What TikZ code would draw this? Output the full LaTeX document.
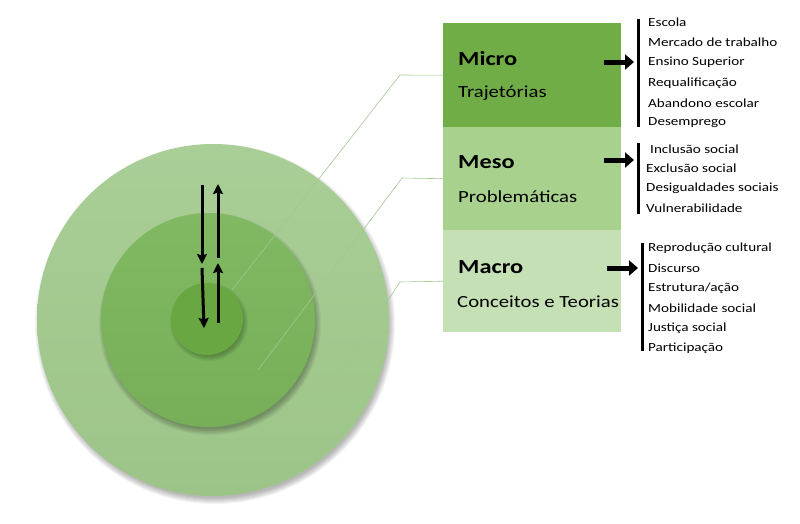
\documentclass[tikz,border=0pt]{standalone}
\usepackage{fontspec}
\setmainfont{Carlito}[FakeStretch=1.22]
\usetikzlibrary{arrows.meta}
\definecolor{microc}{HTML}{70AD47}
\definecolor{mesoc}{HTML}{A9D18E}
\definecolor{macroc}{HTML}{C5E0B4}
\definecolor{ringout}{HTML}{A9CE97}
\definecolor{ringoutd}{HTML}{9DC488}
\definecolor{ringmid}{HTML}{80B962}
\definecolor{ringmidd}{HTML}{76AF57}
\definecolor{ringin}{HTML}{68A741}
\definecolor{leader}{HTML}{A3C78E}
\tikzset{
  ring/.style={circle, draw=none, inner sep=0pt},
  softshadow/.style={black, opacity=0.045},
  levelbox/.style={rectangle, draw=none, anchor=north west, minimum width=178pt, inner sep=0pt},
  title/.style={anchor=west, inner sep=0pt, font=\bfseries\fontsize{20}{24}\selectfont},
  sub/.style={anchor=west, inner sep=0pt, font=\fontsize{17}{21}\selectfont},
  item/.style={anchor=west, inner sep=0pt, font=\fontsize{12.4}{15}\selectfont},
  bar/.style={line width=3pt, black},
  bigarrow/.style={line width=5pt, -{Triangle[length=9pt,width=15pt]}},
  flow/.style={line width=3pt, -{Stealth[length=10pt,width=10pt,inset=1.5pt]}},
  leadline/.style={draw=leader, line width=0.6pt}
}
\begin{document}
\begin{tikzpicture}[x=1pt,y=-1pt]
\useasboundingbox (0,0) rectangle (800,523);
\fill[white] (0,0) rectangle (800,523);

% circles with soft shadows
\foreach \k in {-2,...,4} \fill[softshadow] (215,324) circle [radius={176pt+\k pt}];
\node[ring, minimum size=352pt, top color=ringout, bottom color=ringoutd] (outer) at (213,320) {};
\foreach \k in {-2,...,4} \fill[softshadow] (210,324) circle [radius={107pt+\k pt}];
\node[ring, minimum size=214pt, top color=ringmid, bottom color=ringmidd] (middle) at (208,320) {};
\foreach \k in {-2,...,3} \fill[softshadow] (209,322) circle [radius={36pt+\k pt}];
\node[ring, minimum size=72pt, fill=ringin] (inner) at (207,319) {};

% arrows inside circles
\coordinate (d1s) at (202,185); \coordinate (d1e) at (202,264);
\coordinate (u1s) at (218,258); \coordinate (u1e) at (218,184);
\coordinate (d2s) at (202,268); \coordinate (d2e) at (204,328);
\coordinate (u2s) at (218,323); \coordinate (u2e) at (218,263);
\draw[flow] (d1s) -- (d1e);
\draw[flow] (u1s) -- (u1e);
\draw[flow] (d2s) -- (d2e);
\draw[flow] (u2s) -- (u2e);

% boxes
\node[levelbox, fill=microc, minimum height=104pt] (micro) at (443,23) {};
\node[levelbox, fill=mesoc, minimum height=103pt] (meso) at (443,127) {};
\node[levelbox, fill=macroc, minimum height=102pt] (macro) at (443,230) {};

\node[title] (microt) at (458,59) {Micro};
\node[sub] (micros) at (458,93) {Trajetórias};
\node[title] (mesot) at (458,162) {Meso};
\node[sub] (mesos) at (458,197) {Problemáticas};
\node[title] (macrot) at (458,267) {Macro};
\node[sub] (macros) at (457,302) {Conceitos e Teorias};

% leader lines
\coordinate (lm1) at (400,75); \coordinate (lm2) at (232,290);
\coordinate (le1) at (402,178); \coordinate (le2) at (258,370);
\coordinate (la1) at (400,282); \coordinate (la2) at (310,418);
\draw[leadline] (micro.west) -- (lm1) -- (lm2);
\draw[leadline] (meso.west) -- (le1) -- (le2);
\draw[leadline] (macro.west) -- (la1) -- (la2);

% big arrows
\coordinate (am1) at (604,62); \coordinate (am2) at (634,62);
\coordinate (ae1) at (604,160); \coordinate (ae2) at (634,160);
\coordinate (aa1) at (607,268); \coordinate (aa2) at (638,268);
\draw[bigarrow] (am1) -- (am2);
\draw[bigarrow] (ae1) -- (ae2);
\draw[bigarrow] (aa1) -- (aa2);

% bars
\coordinate (bm1) at (638,19); \coordinate (bm2) at (638,127);
\coordinate (be1) at (638,143); \coordinate (be2) at (638,214);
\coordinate (ba1) at (642,243); \coordinate (ba2) at (642,351);
\draw[bar] (bm1) -- (bm2);
\draw[bar] (be1) -- (be2);
\draw[bar] (ba1) -- (ba2);

% lists
\node[item] (i1) at (648,22) {Escola};
\node[item] (i2) at (648,42) {Mercado de trabalho};
\node[item] (i3) at (648,62) {Ensino Superior};
\node[item] (i4) at (648,83) {Requalificação};
\node[item] (i5) at (648,103) {Abandono escolar};
\node[item] (i6) at (648,123) {Desemprego};

\node[item] (j1) at (650,149) {Inclusão social};
\node[item] (j2) at (646,168) {Exclusão social};
\node[item] (j3) at (646,188) {Desigualdades sociais};
\node[item] (j4) at (646,208) {Vulnerabilidade};

\node[item] (k1) at (648,248) {Reprodução cultural};
\node[item] (k2) at (648,268) {Discurso};
\node[item] (k3) at (648,288) {Estrutura/ação};
\node[item] (k4) at (648,308) {Mobilidade social};
\node[item] (k5) at (648,328) {Justiça social};
\node[item] (k6) at (648,348) {Participação};
\end{tikzpicture}
\end{document}
